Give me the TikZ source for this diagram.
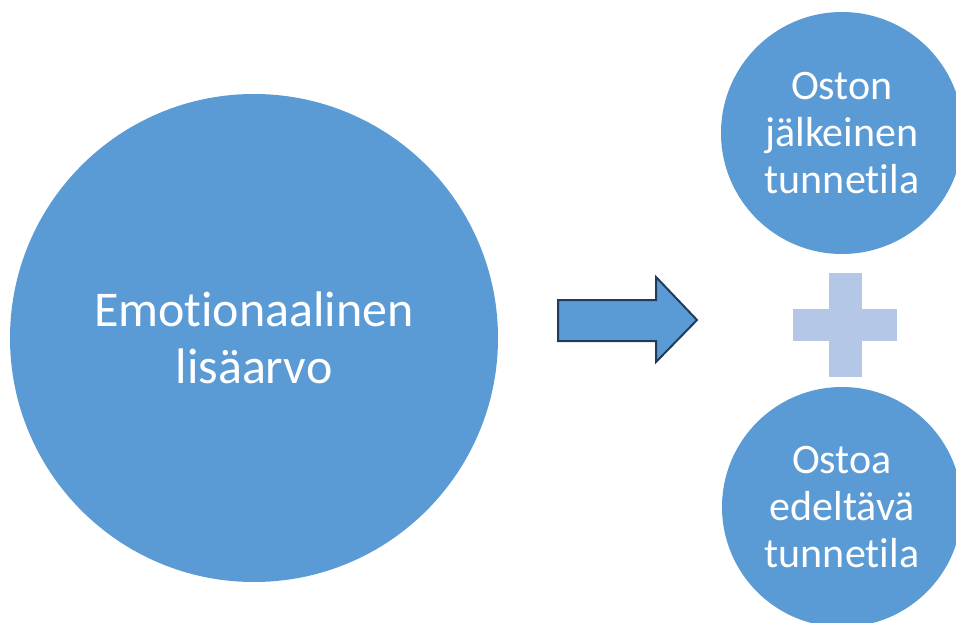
\documentclass[tikz,border=0pt]{standalone}
\usepackage{fontspec}
\setmainfont[Ligatures={NoCommon,NoRequired,NoContextual}]{Carlito}
\definecolor{discblue}{HTML}{5B9BD5}
\definecolor{arrowline}{HTML}{203C5C}
\definecolor{pluscol}{HTML}{B4C7E7}
\begin{document}
\begin{tikzpicture}[x=1pt,y=-1pt,
  disc/.style={circle,fill=discblue,draw=none,inner sep=0pt,text=white,align=center},
  bigtext/.style={font=\fontsize{50}{57}\selectfont},
  smalltext/.style={font=\fontsize{42}{47}\selectfont}]
\useasboundingbox (0,0) rectangle (956,623);
\fill[white] (0,0) rectangle (956,623);
\begin{scope}
\clip (0,0) rectangle (956,623);
% main concept
\node[disc,minimum size=488pt,bigtext] (emo) at (254,338) {Emotionaalinen\\lisäarvo};
% the two components
\node[disc,minimum size=242pt,smalltext] (after) at (842,133) {Oston\\jälkeinen\\tunnetila};
\node[disc,minimum size=240pt,smalltext] (before) at (842,507) {Ostoa\\edeltävä\\tunnetila};
\end{scope}
% block arrow
\filldraw[fill=discblue,draw=arrowline,line width=2pt,line join=miter]
  (558,300) -- (656,300) -- (656,277) -- (697,320) -- (656,362) -- (656,341) -- (558,341) -- cycle;
% plus sign between the components
\filldraw[fill=pluscol,draw=white,line width=0.6pt]
  (828,272) -- (862,272) -- (862,308) -- (897,308) -- (897,341) -- (862,341) -- (862,377)
  -- (828,377) -- (828,341) -- (792,341) -- (792,308) -- (828,308) -- cycle;
\end{tikzpicture}
\end{document}
